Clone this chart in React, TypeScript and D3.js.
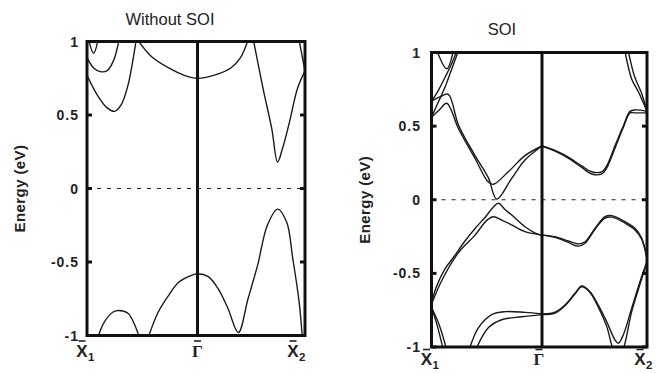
import React from 'react';
import * as d3 from 'd3';

type Pt = [number, number];

// k-path: X̄1 = 0, Γ̄ = 1, X̄2 = 2 ; energies in eV
const kTicks = [0, 1, 2];
const kTickLetters = ['X', '\u0393', 'X'];
const kTickSubs = ['1', '', '2'];
const energyTicks = [1, 0.5, 0, -0.5, -1];
const energyTickLabels = ['1', '0.5', '0', '-0.5', '-1'];
const panelTitles = ['Without SOI', 'SOI'];
const yAxisTitle = 'Energy (eV)';

// ---------- Without SOI ----------
const nsCondA: Pt[] = [[0, 0.77], [0.09, 0.64], [0.18, 0.55], [0.25, 0.525], [0.31, 0.57], [0.37, 0.7], [0.41, 0.85], [0.445, 1.01]];
const nsCondB: Pt[] = [[0, 0.89], [0.06, 0.82], [0.12, 0.795], [0.18, 0.8], [0.24, 0.87], [0.29, 1.01]];
const nsCondC: Pt[] = [[0.015, 1.01], [0.06, 0.92], [0.1, 1.01]];
const nsCondGamma: Pt[] = [[0.46, 1.01], [0.58, 0.9], [0.74, 0.82], [0.88, 0.77], [1.0, 0.75], [1.15, 0.77], [1.31, 0.82], [1.4, 0.89], [1.47, 1.01]];
const nsCondD: Pt[] = [[1.52, 1.01], [1.61, 0.68], [1.69, 0.41], [1.745, 0.18], [1.79, 0.27], [1.855, 0.45], [1.93, 0.68], [2.0, 0.8]];
const nsCondE: Pt[] = [[1.945, 1.01], [2.0, 0.8]];
const nsValF: Pt[] = [[0.1, -1.01], [0.155, -0.91], [0.236, -0.84], [0.29, -0.83], [0.373, -0.85], [0.427, -0.92], [0.473, -1.01]];
const nsValG: Pt[] = [[0.555, -1.01], [0.645, -0.84], [0.736, -0.73], [0.827, -0.64], [0.918, -0.6], [1.0, -0.58], [1.1, -0.6], [1.19, -0.68], [1.28, -0.81], [1.38, -0.98], [1.47, -0.75], [1.56, -0.52], [1.65, -0.25], [1.745, -0.14], [1.83, -0.23], [1.885, -0.47], [1.945, -0.77], [1.975, -1.01]];

// ---------- SOI ----------
const soCondR1: Pt[] = [[0, 0.56], [0.07, 0.61], [0.138, 0.655], [0.243, 0.485], [0.394, 0.28], [0.514, 0.12], [0.56, 0.105], [0.695, 0.19], [0.846, 0.3], [1.0, 0.365]];
const soCondR2: Pt[] = [[0, 0.67], [0.08, 0.7], [0.152, 0.716], [0.243, 0.51], [0.394, 0.3], [0.514, 0.15], [0.59, 0.005], [0.726, 0.145], [0.846, 0.27], [1.0, 0.365]];
const soCondU1: Pt[] = [[0, 0.67], [0.06, 0.74], [0.122, 0.83], [0.18, 0.92], [0.228, 1.01]];
const soCondU2: Pt[] = [[0, 0.56], [0.06, 0.66], [0.12, 0.76], [0.17, 0.86], [0.243, 1.01]];
const soCondV: Pt[] = [[0.05, 1.01], [0.138, 0.89], [0.197, 1.01]];
const soCondR4a: Pt[] = [[1.0, 0.365], [1.124, 0.335], [1.25, 0.29], [1.378, 0.23], [1.473, 0.19], [1.569, 0.19], [1.616, 0.23], [1.695, 0.366], [1.774, 0.5], [1.838, 0.6], [1.886, 0.61], [2.0, 0.6]];
const soCondR4b: Pt[] = [[1.0, 0.365], [1.124, 0.33], [1.25, 0.283], [1.378, 0.22], [1.473, 0.175], [1.569, 0.175], [1.616, 0.215], [1.695, 0.35], [1.774, 0.49], [1.838, 0.59], [1.886, 0.59], [2.0, 0.59]];
const soCondR5a: Pt[] = [[1.79, 1.01], [1.854, 0.82], [1.92, 0.73], [2.0, 0.6]];
const soCondR5b: Pt[] = [[1.822, 1.01], [1.88, 0.84], [1.95, 0.72], [2.0, 0.6]];
const soValV1: Pt[] = [[0, -0.71], [0.04, -0.6], [0.122, -0.47], [0.2, -0.39], [0.303, -0.28], [0.4, -0.19], [0.484, -0.12], [0.56, -0.05], [0.605, -0.024], [0.67, -0.07], [0.726, -0.104], [0.846, -0.183], [0.967, -0.235], [1.0, -0.24]];
const soValV2: Pt[] = [[0, -0.71], [0.092, -0.55], [0.243, -0.36], [0.394, -0.24], [0.5, -0.14], [0.559, -0.115], [0.64, -0.14], [0.726, -0.171], [0.846, -0.217], [1.0, -0.24]];
const soValV3a: Pt[] = [[0, -0.73], [0.05, -0.85], [0.107, -1.02]];
const soValV3b: Pt[] = [[0, -0.73], [0.07, -0.85], [0.138, -1.02]];
const soValL1: Pt[] = [[0.34, -1.02], [0.424, -0.87], [0.545, -0.78], [0.665, -0.76], [0.846, -0.765], [1.0, -0.775]];
const soValL2: Pt[] = [[0.4, -1.02], [0.514, -0.87], [0.635, -0.815], [0.816, -0.795], [1.0, -0.78]];
const soValP1a: Pt[] = [[1.0, -0.24], [1.124, -0.251], [1.25, -0.28], [1.346, -0.3], [1.41, -0.285], [1.505, -0.194], [1.6, -0.115], [1.664, -0.108], [1.79, -0.149], [1.886, -0.194], [1.95, -0.262], [2.0, -0.4]];
const soValP1b: Pt[] = [[1.0, -0.24], [1.124, -0.256], [1.25, -0.29], [1.346, -0.315], [1.41, -0.295], [1.505, -0.2], [1.6, -0.125], [1.664, -0.118], [1.79, -0.158], [1.886, -0.205], [1.95, -0.27], [2.0, -0.4]];
const soValD1: Pt[] = [[1.0, -0.775], [1.124, -0.764], [1.219, -0.715], [1.314, -0.635], [1.378, -0.586], [1.457, -0.624], [1.536, -0.715], [1.616, -0.828], [1.695, -0.952], [1.727, -0.975], [1.774, -0.918], [1.854, -0.737], [1.933, -0.557], [2.0, -0.42]];
const soValD2: Pt[] = [[1.0, -0.78], [1.124, -0.77], [1.219, -0.72], [1.314, -0.64], [1.378, -0.592], [1.457, -0.63], [1.536, -0.73], [1.616, -0.86], [1.67, -1.0], [1.725, -1.08], [1.78, -1.0], [1.854, -0.76], [1.933, -0.575], [2.0, -0.42]];

const noSoiBands = [nsCondA, nsCondB, nsCondC, nsCondGamma, nsCondD, nsCondE, nsValF, nsValG];
const soiBands = [soCondR1, soCondR2, soCondU1, soCondU2, soCondV, soCondR4a, soCondR4b, soCondR5a, soCondR5b,
  soValV1, soValV2, soValV3a, soValV3b, soValL1, soValL2, soValP1a, soValP1b, soValD1, soValD2];

interface PanelCfg {
  id: string;
  xRange: number[];
  yTop: number;
  yBottom: number;
  title: string;
  titleX: number;
  titleY: number;
  yLabelX: number;
  tickLabelRight: number;
  kLabelDx: number[];
  kLabelDy: number;
  bands: Pt[][];
}

const FONT = "'Liberation Sans', Arial, Helvetica, sans-serif";
const SERIF = "'Liberation Serif', 'Times New Roman', serif";

function Panel({ cfg }: { cfg: PanelCfg }) {
  const x = d3.scaleLinear().domain(kTicks).range(cfg.xRange);
  const y = d3.scaleLinear().domain([-1, 1]).range([cfg.yBottom, cfg.yTop]);
  const line = d3.line<Pt>().x(d => x(d[0])).y(d => y(d[1])).curve(d3.curveCatmullRom.alpha(0.5));
  const x0 = x(0), x2 = x(2);
  const yMid = (y(1) + y(-1)) / 2;
  return (
    <g>
      <defs>
        <clipPath id={`clip-${cfg.id}`}>
          <rect x={x0} y={y(1)} width={x2 - x0} height={y(-1) - y(1)} />
        </clipPath>
      </defs>
      <text x={cfg.titleX} y={cfg.titleY} textAnchor="middle" fontFamily={FONT} fontSize={16.5} fill="#222">{cfg.title}</text>
      <text transform={`translate(${cfg.yLabelX},${yMid}) rotate(-90)`} textAnchor="middle" dominantBaseline="central"
        fontFamily={FONT} fontWeight="bold" fontSize={15} letterSpacing={0.4} fill="#222">{yAxisTitle}</text>
      {/* zero line */}
      <line x1={x0} x2={x2} y1={y(0)} y2={y(0)} stroke="#222" strokeWidth={1} strokeDasharray="4,6" />
      <g clipPath={`url(#clip-${cfg.id})`}>
        {cfg.bands.map((b, i) => (
          <path key={i} d={line(b) || ''} fill="none" stroke="#1a1a1a" strokeWidth={1.4} />
        ))}
      </g>
      {/* Gamma line */}
      <line x1={x(1)} x2={x(1)} y1={y(1)} y2={y(-1)} stroke="#111" strokeWidth={3} />
      {/* frame */}
      <rect x={x0} y={y(1)} width={x2 - x0} height={y(-1) - y(1)} fill="none" stroke="#111" strokeWidth={3} />
      {energyTicks.map((t, i) => (
        <g key={i}>
          <line x1={x0} x2={x0 + 5} y1={y(t)} y2={y(t)} stroke="#111" strokeWidth={3} />
          <line x1={x2 - 5} x2={x2} y1={y(t)} y2={y(t)} stroke="#111" strokeWidth={3} />
          <text x={cfg.tickLabelRight} y={y(t)} textAnchor="end" dominantBaseline="central" fontFamily={FONT}
            fontWeight="bold" fontSize={14} letterSpacing={1} fill="#222">{energyTickLabels[i]}</text>
        </g>
      ))}
      {kTicks.map((k, i) => {
        const cx = x(k) + cfg.kLabelDx[i];
        const by = cfg.yBottom + cfg.kLabelDy;
        return (
          <g key={i}>
            <line x1={cx - 3.5} x2={cx + 3.5} y1={by - 15.5} y2={by - 15.5} stroke="#222" strokeWidth={1.6} />
            <text x={cx} y={by} textAnchor="middle" fontFamily={i === 1 ? SERIF : FONT}
              fontWeight="bold" fontSize={17} fill="#222">{kTickLetters[i]}</text>
            {kTickSubs[i] && (
              <text x={cx + 6} y={by + 4} textAnchor="start" fontFamily={FONT} fontWeight="bold" fontSize={11.5} fill="#222">{kTickSubs[i]}</text>
            )}
          </g>
        );
      })}
    </g>
  );
}

const panels: PanelCfg[] = [
  {
    id: 'nosoi', xRange: [87, 197.5, 305], yTop: 41.5, yBottom: 335.5, title: panelTitles[0], titleX: 170, titleY: 25,
    yLabelX: 19, tickLabelRight: 79, kLabelDx: [-5, 0, -12], kLabelDy: 21, bands: noSoiBands,
  },
  {
    id: 'soi', xRange: [431.5, 542, 647], yTop: 52.5, yBottom: 347, title: panelTitles[1], titleX: 502, titleY: 35,
    yLabelX: 364, tickLabelRight: 421, kLabelDx: [-5, -3, -7], kLabelDy: 18, bands: soiBands,
  },
];

export default function App() {
  return (
    <svg width={656} height={373} style={{ position: 'absolute', left: 0, top: 0, background: '#fff' }}>
      <rect width={656} height={373} fill="#fff" />
      {panels.map(p => <Panel key={p.id} cfg={p} />)}
    </svg>
  );
}
